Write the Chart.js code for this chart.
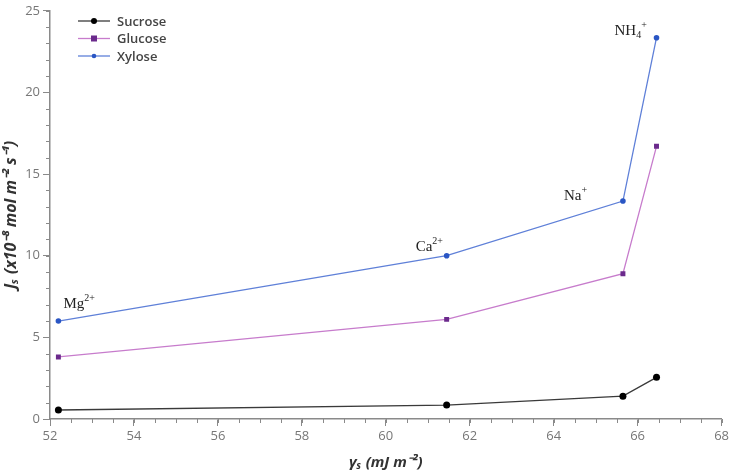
<!DOCTYPE html>
<html>
<head>
<meta charset="utf-8">
<script src="https://cdn.jsdelivr.net/npm/chart.js@4"></script>
<style>
  html, body { margin: 0; padding: 0; background: #fff; }
  #wrap { width: 731px; height: 472px; }
</style>
</head>
<body>
<div id="wrap"><canvas id="chart"></canvas></div>
<script>
// data
const gammaS = [52.2, 61.45, 65.65, 66.45];
const sucrose = [0.55, 0.85, 1.4, 2.55];
const glucose = [3.8, 6.1, 8.9, 16.7];
const xylose = [6.0, 10.0, 13.35, 23.35];
const seriesNames = ['Sucrose', 'Glucose', 'Xylose'];
const ionNames = ['Mg', 'Ca', 'Na', 'NH'];
const ionSub = ['', '', '', '4'];
const ionSup = ['2+', '2+', '+', '+'];
const xTicks = [52, 54, 56, 58, 60, 62, 64, 66, 68];
const yTicks = [0, 5, 10, 15, 20, 25];

const toPoints = arr => arr.map((v, i) => ({ x: gammaS[i], y: v }));

const styles = [
    { line: '#3a3a3a', point: '#000000', shape: 'circle', r: 3.5 },
    { line: '#c77ccc', point: '#6b2a8c', shape: 'rect', r: 3.5 },
    { line: '#5f80d8', point: '#2a56c4', shape: 'circle', r: 2.8 }
];

// ion label offsets from the xylose points (px)
const ionOffsets = [[5, -13], [-31, -5], [-59, -1], [-42, -3]];

const gray = '#8a8a8a';

// minor ticks, legend and ion labels
const extras = {
    id: 'extras',
    afterDraw(chart) {
        const ctx = chart.ctx;
        const xs = chart.scales.x, ys = chart.scales.y;
        ctx.save();
        ctx.strokeStyle = gray;
        ctx.lineWidth = 1;
        ctx.beginPath();
        for (let v = 52; v <= 68; v += 0.5) {
            const px = Math.round(xs.getPixelForValue(v)) + 0.5;
            ctx.moveTo(px, xs.top);
            ctx.lineTo(px, xs.top + 4);
        }
        for (let v = 0; v <= 25; v += 1) {
            const py = Math.round(ys.getPixelForValue(v)) + 0.5;
            ctx.moveTo(ys.right, py);
            ctx.lineTo(ys.right - 4, py);
        }
        ctx.stroke();

        // legend
        const lx = 78, ly = 21, gap = 17.5;
        seriesNames.forEach((name, i) => {
            const s = styles[i];
            const y = ly + i * gap;
            ctx.strokeStyle = s.line;
            ctx.lineWidth = 1.3;
            ctx.beginPath();
            ctx.moveTo(lx, y);
            ctx.lineTo(lx + 32, y);
            ctx.stroke();
            ctx.fillStyle = s.point;
            if (s.shape === 'rect') {
                ctx.fillRect(lx + 16 - 3, y - 3, 6, 6);
            } else {
                ctx.beginPath();
                ctx.arc(lx + 16, y, s.r - 0.5, 0, Math.PI * 2);
                ctx.fill();
            }
            ctx.fillStyle = '#444';
            ctx.font = '600 13px "Open Sans", sans-serif';
            ctx.textBaseline = 'middle';
            ctx.textAlign = 'left';
            ctx.fillText(name, lx + 39, y + 1);
        });

        // ion labels
        ctx.fillStyle = '#222';
        ctx.textBaseline = 'alphabetic';
        ionNames.forEach((name, i) => {
            const px = xs.getPixelForValue(gammaS[i]) + ionOffsets[i][0];
            const py = ys.getPixelForValue(xylose[i]) + ionOffsets[i][1];
            ctx.font = '15px "Liberation Serif", serif';
            ctx.fillText(name, px, py);
            let w = ctx.measureText(name).width;
            ctx.font = '10px "Liberation Serif", serif';
            if (ionSub[i]) {
                ctx.fillText(ionSub[i], px + w, py + 3);
                w += ctx.measureText(ionSub[i]).width;
            }
            ctx.fillText(ionSup[i], px + w, py - 7);
        });
        ctx.restore();
    }
};

new Chart(document.getElementById('chart'), {
    type: 'line',
    data: {
        datasets: [sucrose, glucose, xylose].map((arr, i) => ({
            label: seriesNames[i],
            data: toPoints(arr),
            borderColor: styles[i].line,
            borderWidth: 1.3,
            backgroundColor: styles[i].point,
            pointBackgroundColor: styles[i].point,
            pointBorderColor: styles[i].point,
            pointStyle: styles[i].shape,
            pointRadius: styles[i].r,
            pointBorderWidth: 0,
            tension: 0
        }))
    },
    options: {
        responsive: true,
        maintainAspectRatio: false,
        animation: false,
        layout: { padding: { top: 4, right: 9, left: 0, bottom: 0 } },
        plugins: {
            legend: { display: false },
            tooltip: { enabled: false }
        },
        scales: {
            x: {
                type: 'linear',
                min: 52,
                max: 68,
                afterBuildTicks: scale => { scale.ticks = xTicks.map(v => ({ value: v })); },
                afterFit: scale => { scale.height = 53; },
                border: { color: gray, width: 1.5 },
                grid: { drawOnChartArea: false, color: gray, tickLength: 7 },
                ticks: { color: '#777', font: { family: '"Open Sans", sans-serif', size: 13 }, padding: 2 },
                title: {
                    display: true,
                    text: 'γₛ (mJ m⁻²)',
                    color: '#333',
                    font: { family: '"Open Sans", sans-serif', size: 15, weight: 'bold', style: 'italic' },
                    padding: { top: 2, bottom: 0 }
                }
            },
            y: {
                min: 0,
                max: 25,
                afterBuildTicks: scale => { scale.ticks = yTicks.map(v => ({ value: v })); },
                afterFit: scale => { scale.width = 50; },
                border: { color: gray, width: 1.5 },
                grid: { drawOnChartArea: false, color: gray, tickLength: 7 },
                ticks: { color: '#777', font: { family: '"Open Sans", sans-serif', size: 13 }, padding: 3 },
                title: {
                    display: true,
                    text: 'Jₛ (x10⁻⁸ mol m⁻² s⁻¹)',
                    color: '#333',
                    font: { family: '"Open Sans", sans-serif', size: 16, weight: 'bold', style: 'italic' },
                    padding: { top: 2, bottom: 2 }
                }
            }
        }
    },
    plugins: [extras]
});
</script>
</body>
</html>
